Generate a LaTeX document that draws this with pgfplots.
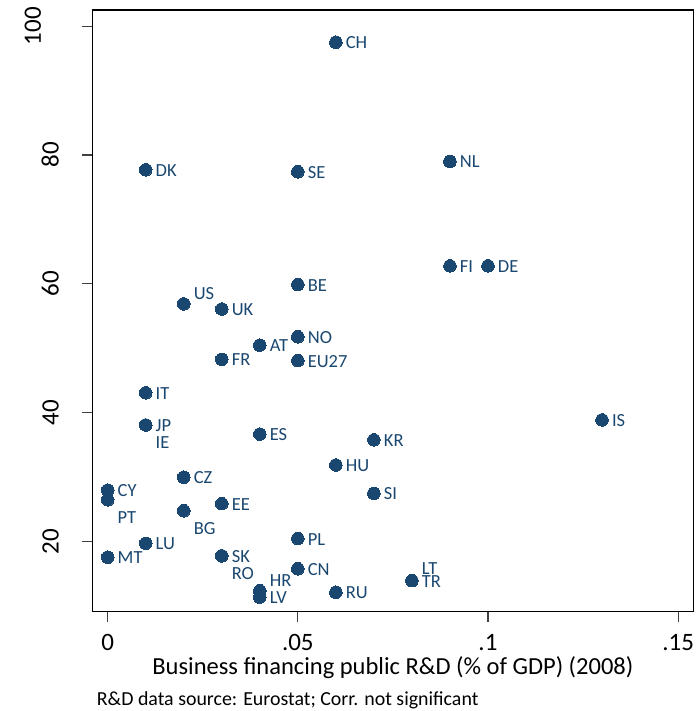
\documentclass[border=0pt]{standalone}
\usepackage{pgfplots}
\pgfplotsset{compat=1.18}
\usepackage{pgfplotstable}
\usepackage{fontspec}
\setmainfont{Carlito}
\definecolor{navy}{RGB}{26,71,111}

% labels to the right of the marker (clock 3)
\pgfplotstableread{
x y lab
0.06 97.5 CH
0.01 77.7 DK
0.05 77.4 SE
0.09 79.0 NL
0.09 62.8 FI
0.10 62.8 DE
0.05 59.9 BE
0.03 56.1 UK
0.05 51.8 NO
0.04 50.5 AT
0.03 48.3 FR
0.05 48.1 EU27
0.01 43.1 IT
0.13 38.9 IS
0.01 38.1 JP
0.04 36.7 ES
0.07 35.8 KR
0.06 31.9 HU
0.02 30.0 CZ
0.07 27.5 SI
0.00 28.0 CY
0.03 25.9 EE
0.05 20.5 PL
0.01 19.75 LU
0.03 17.8 SK
0.00 17.6 MT
0.05 15.8 CN
0.08 13.95 TR
0.06 12.15 RU
0.04 11.4 LV
}\rightpts

% labels below right (clock 4)
\pgfplotstableread{
x y lab
0.01 38.1 IE
0.00 26.5 PT
0.02 24.8 BG
0.03 17.8 RO
}\lowpts

% labels above right (clock 2)
\pgfplotstableread{
x y lab
0.02 56.9 US
0.04 12.4 HR
}\highpts

\pgfplotstableread{
x y lab
0.08 13.95 LT
}\highertpts

\begin{document}
\begin{tikzpicture}
\begin{axis}[
    scale only axis,
    width=601.2pt, height=601.7pt,
    xmin=-0.00405, xmax=0.15405,
    ymin=9.14, ymax=102.5,
    axis line style={black, line width=1.2pt},
    tick pos=left,
    tick align=outside,
    major tick length=10pt,
    tick style={black!75, line width=1.1pt},
    xtick={0,0.05,0.1,0.15},
    xticklabels={0,.05,.1,.15},
    ytick={20,40,60,80,100},
    yticklabels={20,40,60,80,\raisebox{18pt}{100}},
    xticklabel style={anchor=north, inner sep=0pt, yshift=-12.8pt, font=\fontsize{25}{28}\selectfont},
    yticklabel style={xshift=-23.3pt, rotate=90, anchor=south, inner sep=0pt, font=\fontsize{25}{28}\selectfont},
    xlabel={Business financing public R\&D (\% of GDP) (2008)},
    xlabel style={at={(axis description cs:0.5,0)}, anchor=base, inner sep=0pt, yshift=-62.3pt, font=\fontsize{24.5}{27}\selectfont},
    every axis plot/.append style={only marks, mark=*, mark size=6.3pt,
        mark options={fill=navy, draw=navy, line width=0pt},
        nodes near coords, point meta=explicit symbolic},
]
\addplot[nodes near coords style={anchor=west, inner sep=0pt, xshift=10pt, yshift=-0.6pt, text=navy, font=\fontsize{18.5}{20}\selectfont}]
    table[x=x, y=y, meta=lab] {\rightpts};
\addplot[nodes near coords style={anchor=west, inner sep=0pt, xshift=10pt, yshift=-18pt, text=navy, font=\fontsize{18.5}{20}\selectfont}]
    table[x=x, y=y, meta=lab] {\lowpts};
\addplot[nodes near coords style={anchor=west, inner sep=0pt, xshift=10pt, yshift=10pt, text=navy, font=\fontsize{18.5}{20}\selectfont}]
    table[x=x, y=y, meta=lab] {\highpts};
\addplot[nodes near coords style={anchor=west, inner sep=0pt, xshift=10pt, yshift=12pt, text=navy, font=\fontsize{18.5}{20}\selectfont}]
    table[x=x, y=y, meta=lab] {\highertpts};
\end{axis}
\node[anchor=base west, inner sep=0pt, font=\fontsize{19.9}{22}\selectfont]
    at (4.4pt,-93.3pt) {R\&D data source: Eurostat; Corr. not significant};
\pgfresetboundingbox
\path[use as bounding box] (-92.3pt,-99.3pt) rectangle (602.7pt,611.7pt);
\end{tikzpicture}
\end{document}
